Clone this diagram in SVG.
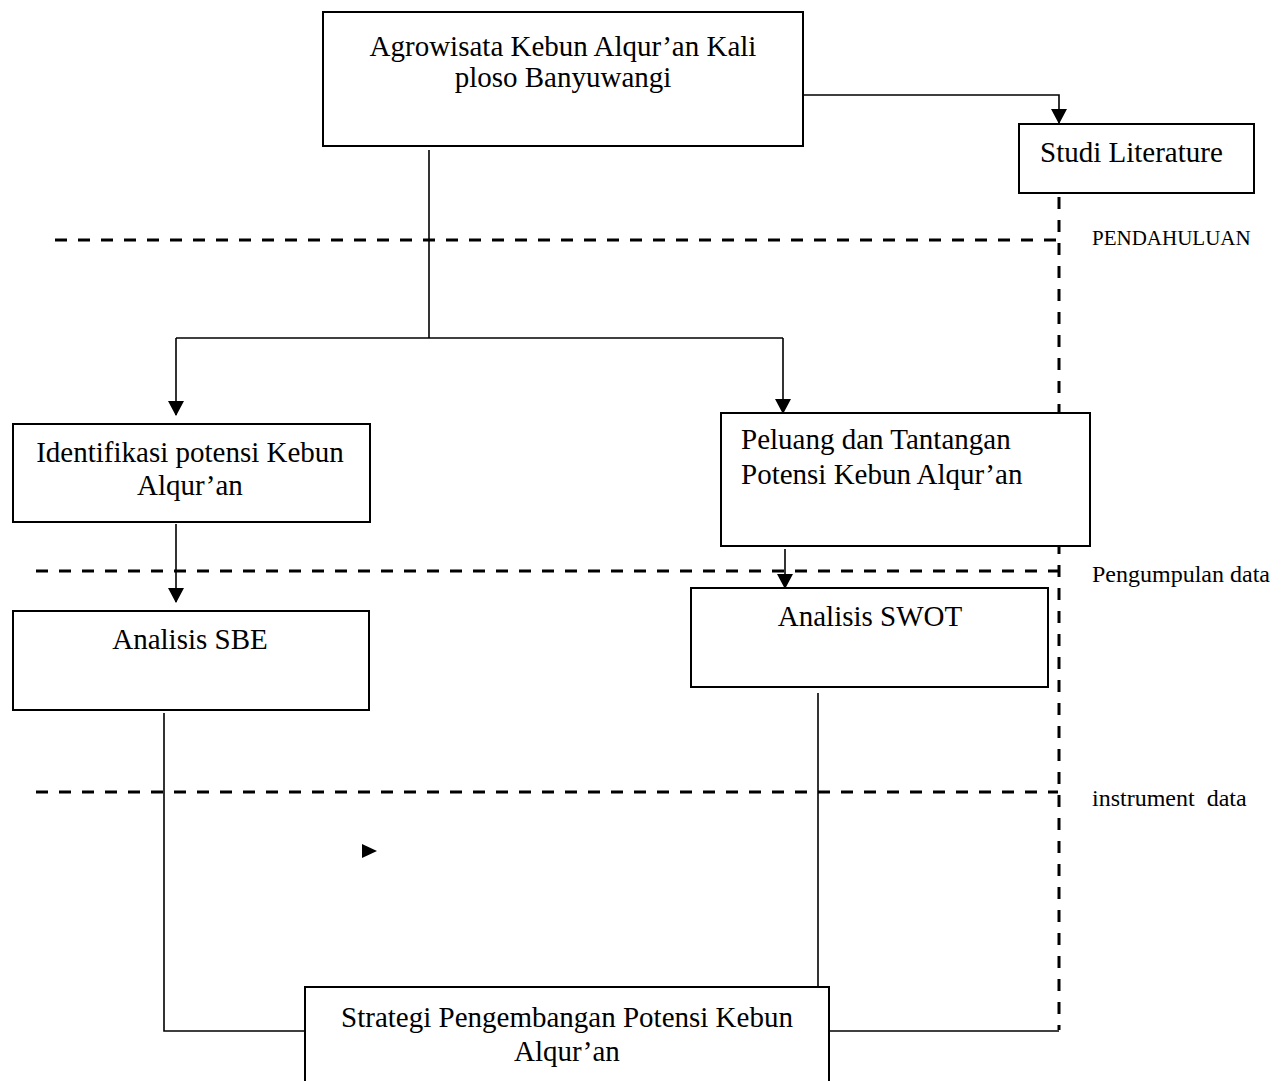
<svg xmlns="http://www.w3.org/2000/svg" width="1286" height="1081" viewBox="0 0 1286 1081">
<style>
.box{fill:#fff;stroke:#000;stroke-width:2}
.t{font-family:"Liberation Serif","Times New Roman",serif;font-size:29px;fill:#000}
.lbl{font-family:"Liberation Serif","Times New Roman",serif;font-size:21px;fill:#000}
.ln{fill:none;stroke:#000;stroke-width:1.6}
.dash{fill:none;stroke:#000;stroke-width:3;stroke-dasharray:12 11}
</style>
<defs>
<marker id="ah" markerUnits="userSpaceOnUse" markerWidth="16" markerHeight="16" refX="14" refY="8" orient="auto" viewBox="0 0 16 16">
<path d="M0,0 L15,8 L0,16 Z" fill="#000"/>
</marker>
</defs>
<rect width="1286" height="1081" fill="#fff"/>
<g id="dividers">
<path class="dash" d="M55,240 H1056"/>
<path class="dash" d="M36,571 H1058"/>
<path class="dash" d="M36,792 H1058"/>
<path class="dash" d="M1059,197 V1030"/>
</g>
<g id="connectors">
<path class="ln" d="M803,95 H1059 V123" marker-end="url(#ah)"/>
<path class="ln" d="M429,150 V338"/>
<path class="ln" d="M176,338 H783"/>
<path class="ln" d="M176,338 V415" marker-end="url(#ah)"/>
<path class="ln" d="M783,338 V413" marker-end="url(#ah)"/>
<path class="ln" d="M176,524 V602" marker-end="url(#ah)"/>
<path class="ln" d="M785,549 V588" marker-end="url(#ah)"/>
<path class="ln" d="M164,713 V1031 H305"/>
<path class="ln" d="M829,1031 H1059"/>
<path class="ln" d="M818,693 V988"/>
<polygon points="362,844 377,851 362,858" fill="#000"/>
</g>
<g id="node-agrowisata">
<rect class="box" x="323" y="12" width="480" height="134"/>
<text class="t" x="563" y="56" text-anchor="middle">Agrowisata Kebun Alqur’an Kali</text>
<text class="t" x="563" y="87" text-anchor="middle">ploso Banyuwangi</text>
</g>
<g id="node-studi">
<rect class="box" x="1019" y="124" width="235" height="69"/>
<text class="t" x="1040" y="162">Studi Literature</text>
</g>
<g id="node-identifikasi">
<rect class="box" x="13" y="424" width="357" height="98"/>
<text class="t" x="190" y="462" text-anchor="middle">Identifikasi potensi Kebun</text>
<text class="t" x="190" y="495" text-anchor="middle">Alqur’an</text>
</g>
<g id="node-peluang">
<rect class="box" x="721" y="413" width="369" height="133"/>
<text class="t" x="741" y="449">Peluang dan Tantangan</text>
<text class="t" x="741" y="484">Potensi Kebun Alqur’an</text>
</g>
<g id="node-sbe">
<rect class="box" x="13" y="611" width="356" height="99"/>
<text class="t" x="190" y="649" text-anchor="middle">Analisis SBE</text>
</g>
<g id="node-swot">
<rect class="box" x="691" y="588" width="357" height="99"/>
<text class="t" x="870" y="626" text-anchor="middle">Analisis SWOT</text>
</g>
<g id="node-strategi">
<rect class="box" x="305" y="987" width="524" height="110"/>
<text class="t" x="567" y="1027" text-anchor="middle">Strategi Pengembangan Potensi Kebun</text>
<text class="t" x="567" y="1061" text-anchor="middle">Alqur’an</text>
</g>
<g id="labels">
<text class="lbl" x="1092" y="245">PENDAHULUAN</text>
<text class="lbl" x="1092" y="582" style="font-size:24px">Pengumpulan data</text>
<text class="lbl" x="1092" y="806" style="font-size:24px" xml:space="preserve">instrument  data</text>
</g>
</svg>
